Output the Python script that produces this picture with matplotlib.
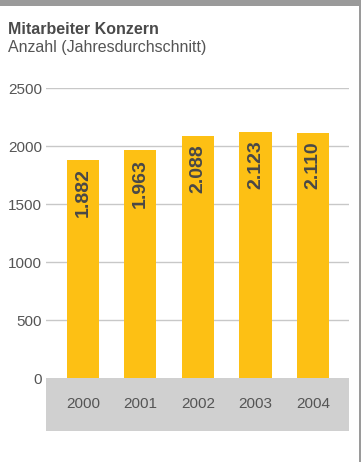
import matplotlib
matplotlib.use("Agg")
import matplotlib.pyplot as plt
from matplotlib.patches import Rectangle

plt.rcParams['font.family'] = ['Liberation Sans', 'DejaVu Sans']

# Daten
years = ['2000', '2001', '2002', '2003', '2004']
employees = [1882, 1963, 2088, 2123, 2110]
yticks = [0, 500, 1000, 1500, 2000, 2500]

bar_color = '#fdc014'
text_color = '#555555'
grid_color = '#c8c8c8'
box_color = '#d0d0d0'

W, H = 361, 462
fig = plt.figure(figsize=(W / 100, H / 100), dpi=100)

# Achse in Pixelkoordinaten: links 46, rechts 349, oben 88 (2500), unten 431
ax = fig.add_axes([46 / W, (H - 431) / H, 303 / W, (431 - 88) / H])
box_depth = 2500 * (431 - 378) / (378 - 88)
ax.set_ylim(-box_depth, 2500)
ax.set_xlim(-0.643, 4.626)

x = list(range(len(years)))
ax.bar(x, employees, width=0.557, color=bar_color, zorder=3)

# Gitterlinien
for t in yticks[1:]:
    ax.axhline(t, color=grid_color, lw=1.0, zorder=1)

# grauer Kasten unter der Nulllinie
ax.axhspan(-box_depth, 0, color=box_color, lw=0, zorder=2)

# Jahreszahlen im Kasten
for xi, yr in zip(x, years):
    ax.text(xi, -box_depth / 2, yr, ha='center', va='center',
            fontsize=11, color=text_color)

# Werte in den Balken
for xi, v in zip(x, employees):
    ax.annotate(f"{v:,}".replace(',', '.'), (xi, v), xytext=(0, -6),
                textcoords='offset points', rotation=90, ha='center', va='top',
                fontsize=14, fontweight='bold', color='#484848', zorder=4)

ax.set_yticks(yticks)
ax.set_yticklabels([str(t) for t in yticks])
ax.tick_params(axis='y', length=0, pad=3, labelsize=11, labelcolor=text_color)
ax.set_xticks([])
for s in ax.spines.values():
    s.set_visible(False)
ax.patch.set_visible(False)

# Titel
fig.text(8 / W, 1 - 34 / H, 'Mitarbeiter Konzern', fontsize=11.5, fontweight='bold',
         color='#4a4a4a', ha='left', va='baseline')
fig.text(8 / W, 1 - 52 / H, 'Anzahl (Jahresdurchschnitt)', fontsize=11.5,
         color=text_color, ha='left', va='baseline')

# Rahmen: oben grauer Balken, rechts graue Linie
fig.add_artist(Rectangle((0, 1 - 6 / H), 1, 6 / H, transform=fig.transFigure,
                         color='#9a9a9a', lw=0))
fig.add_artist(Rectangle((1 - 2 / W, 0), 2 / W, 1, transform=fig.transFigure,
                         color='#9a9a9a', lw=0))

fig.savefig('out.png', dpi=100)
